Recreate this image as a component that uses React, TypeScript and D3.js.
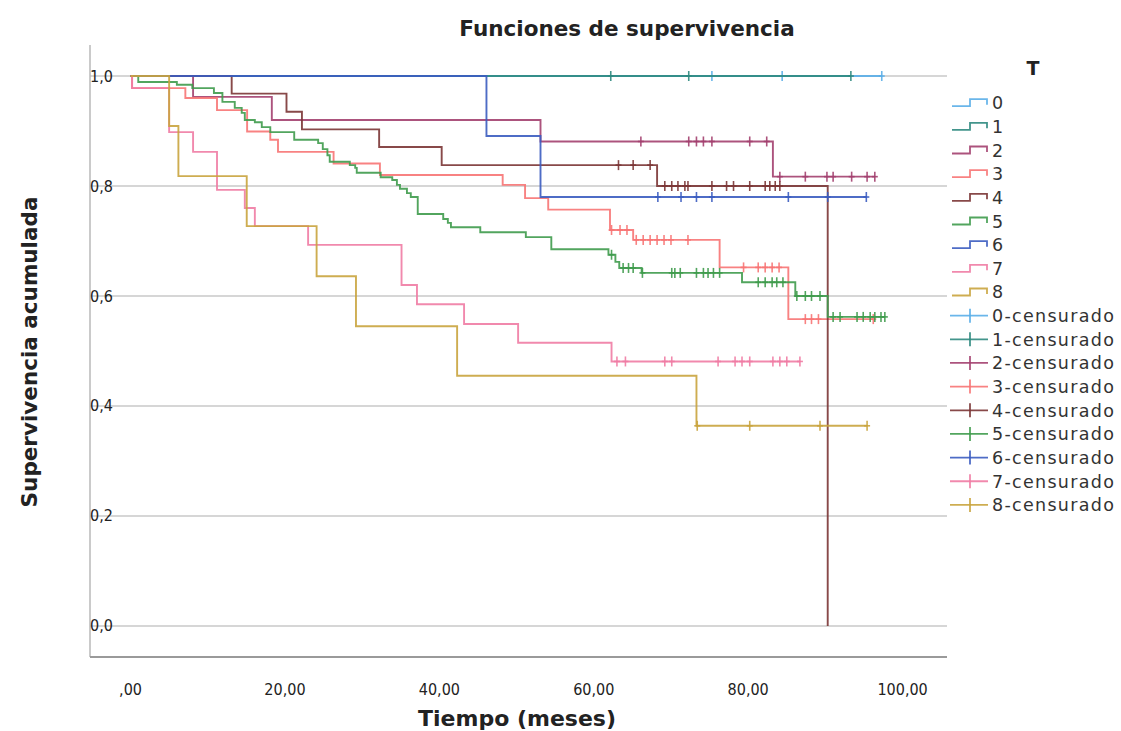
import React from 'react';
import * as d3 from 'd3';

// Group labels and colours
const groups = ['0', '1', '2', '3', '4', '5', '6', '7', '8'];
const groupColors = ['#5aaee8', '#2f8a80', '#a3406f', '#f77474', '#7b3535', '#3f9b4d', '#3b5cc0', '#f07ca4', '#c9a43e'];

// Event times (months) and cumulative survival after each event, plus censored times
const ev0: number[] = [];
const sv0: number[] = [];
const cens0 = [75.3, 84.4, 97.3];

const ev1: number[] = [];
const sv1: number[] = [];
const cens1 = [62.2, 72.3, 93.3];

const ev2 = [8.1, 18.3, 53.1, 83.2];
const sv2 = [0.962, 0.92, 0.881, 0.817];
const cens2 = [66.1, 72.3, 73.3, 74.2, 75.3, 80.2, 82.4, 84.1, 87.4, 90.2, 91.0, 93.4, 95.4, 96.4];

const ev3 = [0.2, 7.1, 11.2, 15.1, 18.1, 19.1, 26.3, 32.3, 48.2, 51.1, 54.1, 62.1, 65.1, 76.3, 85.2];
const sv3 = [0.978, 0.96, 0.938, 0.899, 0.884, 0.862, 0.841, 0.82, 0.802, 0.778, 0.757, 0.72, 0.702, 0.652, 0.558];
const cens3 = [62.3, 63.4, 64.3, 65.5, 66.4, 67.3, 68.2, 69.1, 70.0, 72.2, 79.4, 81.3, 82.2, 83.1, 84.0, 87.4, 88.2, 89.1, 96.2];

const ev4 = [13.1, 20.2, 22.2, 32.2, 40.3, 68.2, 90.3];
const sv4 = [0.968, 0.935, 0.903, 0.871, 0.838, 0.8, 0];
const cens4 = [63.2, 65.1, 67.3, 69.2, 70.1, 70.9, 71.8, 72.2, 75.3, 77.2, 78.1, 80.2, 82.2, 82.8, 83.5, 84.1];

const ev5 = [1.0, 6.0, 8.0, 10.8, 11.9, 13.5, 14.4, 14.8, 16.1, 17.0, 18.1, 21.2, 24.3, 24.9, 25.5, 25.8, 28.4, 29.1, 29.3, 32.4, 33.9, 34.5, 34.9, 35.8, 36.3, 37.2, 40.5, 41.1, 41.5, 45.3, 51.2, 54.5, 61.9, 62.8, 63.3, 66.2, 79.2, 86.1, 90.3];
const sv5 = [0.989, 0.984, 0.978, 0.969, 0.953, 0.942, 0.933, 0.92, 0.916, 0.907, 0.898, 0.884, 0.878, 0.867, 0.856, 0.844, 0.838, 0.833, 0.824, 0.816, 0.811, 0.802, 0.795, 0.787, 0.78, 0.749, 0.74, 0.733, 0.725, 0.716, 0.707, 0.685, 0.675, 0.662, 0.651, 0.642, 0.625, 0.6, 0.562];
const cens5 = [62.3, 63.8, 64.5, 65.1, 66.3, 70.1, 70.5, 71.2, 73.3, 74.2, 74.8, 75.5, 76.3, 81.3, 82.2, 83.1, 83.7, 84.5, 86.3, 87.4, 88.2, 89.3, 91.0, 91.9, 94.1, 94.9, 95.8, 96.4, 97.2, 97.7];

const ev6 = [46.1, 53.1];
const sv6 = [0.891, 0.78];
const cens6 = [68.3, 71.3, 73.3, 75.3, 85.2, 90.3, 95.3];

const ev7 = [0.2, 5.0, 8.1, 11.2, 14.8, 16.1, 23.0, 35.1, 37.1, 43.2, 50.2, 62.3];
const sv7 = [0.978, 0.898, 0.862, 0.793, 0.76, 0.727, 0.693, 0.62, 0.585, 0.549, 0.515, 0.481];
const cens7 = [63.0, 64.1, 69.2, 70.1, 76.1, 78.3, 79.2, 80.2, 83.2, 84.1, 85.0, 86.7];

const ev8 = [5.0, 6.2, 15.05, 24.1, 29.2, 42.3, 73.3];
const sv8 = [0.909, 0.818, 0.727, 0.636, 0.545, 0.455, 0.364];
const cens8 = [73.4, 80.2, 89.3, 95.4];

const eventTimes = [ev0, ev1, ev2, ev3, ev4, ev5, ev6, ev7, ev8];
const survivals = [sv0, sv1, sv2, sv3, sv4, sv5, sv6, sv7, sv8];
const censored = [cens0, cens1, cens2, cens3, cens4, cens5, cens6, cens7, cens8];

const xTicks = [0, 20, 40, 60, 80, 100];
const yTicks = [0, 0.2, 0.4, 0.6, 0.8, 1.0];

const W = 1121;
const H = 731;
const plot = { left: 90, right: 947, top: 45, bottom: 657 };

const x = d3.scaleLinear().domain([-5.25, 105.75]).range([plot.left, plot.right]);
const y = d3.scaleLinear().domain([-0.0564, 1.0564]).range([plot.bottom, plot.top]);

const fmtX = (v: number) => (v === 0 ? ',00' : v.toFixed(2).replace('.', ','));
const fmtY = (v: number) => v.toFixed(1).replace('.', ',');

const survAt = (ev: number[], sv: number[], t: number) => {
  let s = 1;
  for (let i = 0; i < ev.length; i++) if (ev[i] <= t) s = sv[i];
  return s;
};

const stepLine = d3
  .line<[number, number]>()
  .x((d) => x(d[0]))
  .y((d) => y(d[1]))
  .curve(d3.curveStepAfter);

const tickFont = "'Liberation Sans Narrow', 'DejaVu Sans Condensed', 'Roboto', sans-serif";
const labelFont = "'DejaVu Sans', 'Open Sans', sans-serif";

export default function App() {
  const legendX = 950;
  const legendY0 = 102.7;
  const legendStep = 23.66;

  return (
    <svg width={W} height={H} style={{ position: 'absolute', left: 0, top: 0, background: '#fff' }}>
      <rect x={0} y={0} width={W} height={H} fill="#fff" />
      {/* title */}
      <text x={627} y={36} textAnchor="middle" fontFamily={labelFont} fontWeight="bold" fontSize={21.5} fill="#222">
        Funciones de supervivencia
      </text>

      {/* horizontal gridlines */}
      {yTicks.map((v) => (
        <line key={'g' + v} x1={plot.left} x2={plot.right} y1={y(v)} y2={y(v)} stroke="#d6d6d6" strokeWidth={2} />
      ))}

      {/* axes */}
      <line x1={plot.left} x2={plot.left} y1={plot.top} y2={plot.bottom} stroke="#b8b8b8" strokeWidth={1.5} />
      <line x1={plot.left} x2={plot.right} y1={plot.bottom} y2={plot.bottom} stroke="#9a9a9a" strokeWidth={1.8} />

      {yTicks.map((v) => (
        <text key={'yt' + v} x={113} y={y(v) + 5.5} textAnchor="end" fontFamily={tickFont} fontSize={16} fill="#222">
          {fmtY(v)}
        </text>
      ))}
      {xTicks.map((v) => (
        <text key={'xt' + v} x={x(v)} y={695} textAnchor="middle" fontFamily={tickFont} fontSize={16} fill="#222">
          {fmtX(v)}
        </text>
      ))}

      <text x={517} y={726} textAnchor="middle" fontFamily={labelFont} fontWeight="bold" fontSize={22} fill="#222">
        Tiempo (meses)
      </text>
      <text
        transform={`translate(37,352) rotate(-90)`}
        textAnchor="middle"
        fontFamily={labelFont}
        fontWeight="bold"
        fontSize={21.5}
        fill="#222"
      >
        Supervivencia acumulada
      </text>

      {/* survival curves */}
      {groups.map((g, i) => {
        const ev = eventTimes[i];
        const sv = survivals[i];
        const cs = censored[i];
        const end = Math.max(ev.length ? ev[ev.length - 1] : 0, cs.length ? cs[cs.length - 1] : 0);
        const pts: [number, number][] = [[0, 1]];
        ev.forEach((t, k) => pts.push([t, sv[k]]));
        pts.push([end, sv.length ? sv[sv.length - 1] : 1]);
        return (
          <g key={'s' + g} stroke={groupColors[i]} fill="none" strokeOpacity={0.9}>
            <path d={stepLine(pts) || ''} strokeWidth={1.9} />
            {cs.map((t, k) => {
              const cx = x(t);
              const cy = y(survAt(ev, sv, t));
              return (
                <g key={k} strokeWidth={1.6}>
                  <line x1={cx} x2={cx} y1={cy - 5} y2={cy + 5} />
                  <line x1={cx - 3} x2={cx + 3} y1={cy} y2={cy} />
                </g>
              );
            })}
          </g>
        );
      })}

      {/* legend */}
      <text x={1033} y={75} textAnchor="middle" fontFamily={labelFont} fontWeight="bold" fontSize={19} fill="#222">
        T
      </text>
      {groups.map((g, i) => {
        const yc = legendY0 + i * legendStep;
        return (
          <g key={'l' + g}>
            <path
              d={`M${legendX + 2},${yc + 3.5}H${legendX + 20}V${yc - 3.5}H${legendX + 37}V${yc + 2}`}
              stroke={groupColors[i]}
              strokeWidth={1.8}
              fill="none"
              strokeOpacity={0.9}
            />
            <text x={992} y={yc + 6.5} fontFamily={labelFont} fontSize={17.5} fill="#333">
              {g}
            </text>
          </g>
        );
      })}
      {groups.map((g, i) => {
        const yc = legendY0 + (i + 9) * legendStep;
        return (
          <g key={'lc' + g}>
            <g stroke={groupColors[i]} strokeWidth={1.8} strokeOpacity={0.9}>
              <line x1={legendX} x2={legendX + 38} y1={yc} y2={yc} />
              <line x1={legendX + 20} x2={legendX + 20} y1={yc - 7} y2={yc + 7} />
            </g>
            <text x={992} y={yc + 6.5} fontFamily={labelFont} fontSize={17.5} letterSpacing={1.3} fill="#333">
              {g}-censurado
            </text>
          </g>
        );
      })}
    </svg>
  );
}
